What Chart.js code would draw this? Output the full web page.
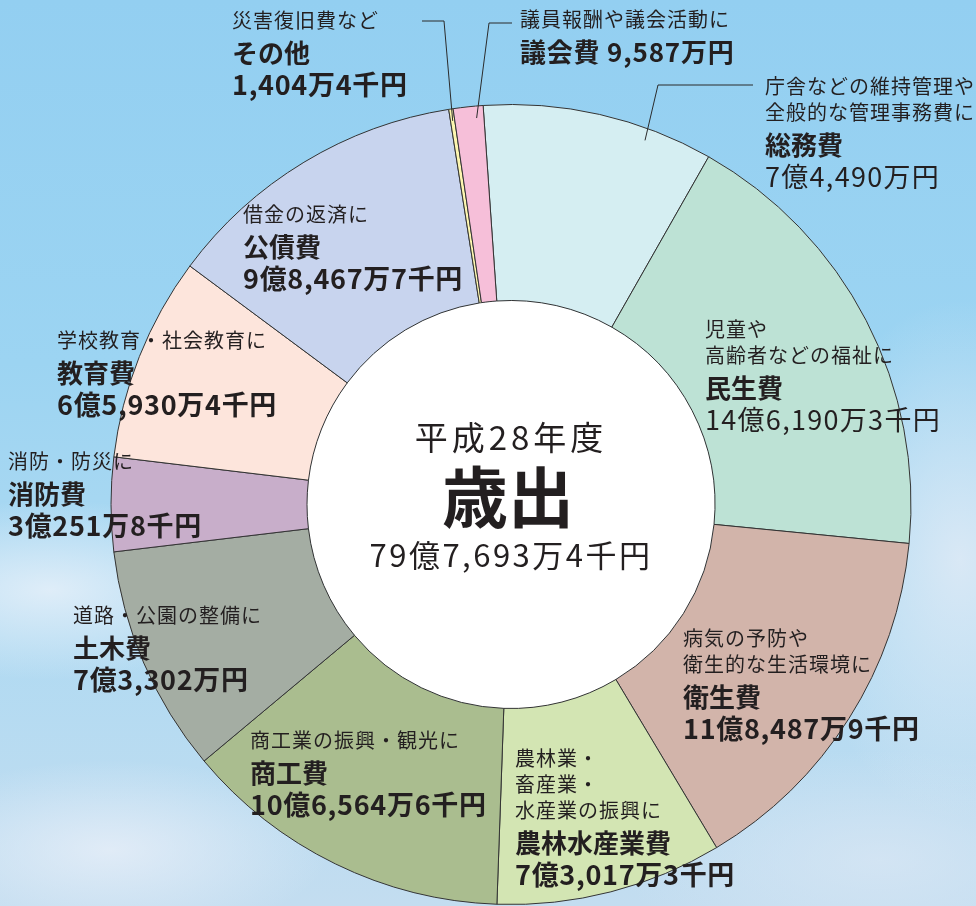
<!DOCTYPE html>
<html lang="ja">
<head>
    <meta charset="UTF-8">
    <title>平成28年度 歳出</title>
    <script src="https://cdn.jsdelivr.net/npm/chart.js"></script>
    <style>
        html, body { margin: 0; padding: 0; }
        #fundo {
            width: 976px;
            height: 906px;
            position: relative;
            overflow: hidden;
            background:
                radial-gradient(ellipse 220px 90px at 50px 590px, rgba(235,242,250,0.8), rgba(235,242,250,0) 100%),
                radial-gradient(ellipse 220px 90px at 110px 850px, rgba(230,238,248,0.85), rgba(230,238,248,0) 100%),
                radial-gradient(ellipse 160px 260px at 960px 560px, rgba(225,235,246,0.85), rgba(225,235,246,0) 100%),
                radial-gradient(ellipse 260px 110px at 880px 860px, rgba(215,230,244,0.8), rgba(215,230,244,0) 100%),
                linear-gradient(180deg, #93cff1 0%, #9cd4f2 40%, #b0daf2 70%, #c3ddf0 100%);
        }
        canvas { display: block; }
    </style>
</head>
<body>
<div id="fundo">
    <canvas id="grafico" width="976" height="906"></canvas>
</div>

<script>
    // 単位: 万円
    const categorias = ['総務費', '民生費', '衛生費', '農林水産業費', '商工費', '土木費', '消防費', '教育費', '公債費', 'その他', '議会費'];
    const valores = [74490, 146190.3, 118487.9, 73017.3, 106564.6, 73302, 30251.8, 65930.4, 98467.7, 1404.4, 9587];
    const textoValores = ['7億4,490万円', '14億6,190万3千円', '11億8,487万9千円', '7億3,017万3千円', '10億6,564万6千円',
        '7億3,302万円', '3億251万8千円', '6億5,930万4千円', '9億8,467万7千円', '1,404万4千円', '9,587万円'];
    const descricoes = [
        ['庁舎などの維持管理や', '全般的な管理事務費に'],
        ['児童や', '高齢者などの福祉に'],
        ['病気の予防や', '衛生的な生活環境に'],
        ['農林業・', '畜産業・', '水産業の振興に'],
        ['商工業の振興・観光に'],
        ['道路・公園の整備に'],
        ['消防・防災に'],
        ['学校教育・社会教育に'],
        ['借金の返済に'],
        ['災害復旧費など'],
        ['議員報酬や議会活動に']
    ];
    const cores = ['#d5eef2', '#bde2d5', '#d2b4aa', '#d3e5b3', '#aabd8f', '#a4ada3', '#c8aeca', '#fde5dc', '#c8d4ee', '#fdf6b0', '#f6bfd9'];
    const tituloCentro = ['平成28年度', '歳出', '79億7,693万4千円'];

    // posição dos rótulos (x, centro da primeira linha)
    const posRotulos = [
        { x: 765, y: 86, fino: true, linha: [[753, 85], [658, 85]], ponto: 0.72 },
        { x: 705, y: 329, fino: true },
        { x: 683, y: 638 },
        { x: 515, y: 758 },
        { x: 250, y: 740 },
        { x: 73, y: 615 },
        { x: 8, y: 461 },
        { x: 57, y: 340 },
        { x: 243, y: 214 },
        { x: 232, y: 20, linha: [[422, 21], [444, 21]], ponto: 0.5 },
        { x: 520, y: 19, juntos: true, linha: [[512, 23], [489, 23]], ponto: 0.75 }
    ];

    const fonte = '"Noto Sans CJK JP", "Noto Sans", sans-serif';
    const corTexto = '#231f20';

    function escrever(ctx, texto, x, y, font, espaco) {
        ctx.font = font;
        ctx.letterSpacing = espaco + 'px';
        ctx.fillText(texto, x, y);
    }

    const pluginRotulos = {
        id: 'rotulos',
        beforeDatasetsDraw(chart) {
            const arco = chart.getDatasetMeta(0).data[0];
            const ctx = chart.ctx;
            ctx.save();
            ctx.beginPath();
            ctx.arc(arco.x, arco.y, arco.innerRadius, 0, Math.PI * 2);
            ctx.fillStyle = '#ffffff';
            ctx.fill();
            ctx.restore();
        },
        afterDatasetsDraw(chart) {
            const ctx = chart.ctx;
            const arcos = chart.getDatasetMeta(0).data;
            ctx.save();
            ctx.fillStyle = corTexto;
            ctx.textBaseline = 'middle';
            ctx.textAlign = 'left';

            posRotulos.forEach((p, i) => {
                let y = p.y;
                descricoes[i].forEach((linha, k) => {
                    escrever(ctx, linha, p.x, y, '400 20px ' + fonte, 1);
                    if (k < descricoes[i].length - 1) y += 26;
                });
                y += 33;
                if (p.juntos) {
                    escrever(ctx, categorias[i] + ' ' + textoValores[i], p.x, y, '700 26px ' + fonte, 0.8);
                } else {
                    escrever(ctx, categorias[i], p.x, y, '700 26px ' + fonte, 0);
                    y += 32;
                    if (p.fino) {
                        escrever(ctx, textoValores[i], p.x, y, '400 27px ' + fonte, 1.3);
                    } else {
                        escrever(ctx, textoValores[i], p.x, y, '700 27px ' + fonte, 0.7);
                    }
                }

                if (p.linha) {
                    const a = arcos[i];
                    const ang = a.startAngle + (a.endAngle - a.startAngle) * p.ponto;
                    const r = a.outerRadius - 12;
                    ctx.beginPath();
                    ctx.moveTo(p.linha[0][0], p.linha[0][1]);
                    ctx.lineTo(p.linha[1][0], p.linha[1][1]);
                    ctx.lineTo(a.x + Math.cos(ang) * r, a.y + Math.sin(ang) * r);
                    ctx.strokeStyle = '#2b2b2b';
                    ctx.lineWidth = 1;
                    ctx.stroke();
                }
            });

            // texto central
            const c = arcos[0];
            ctx.textAlign = 'center';
            escrever(ctx, tituloCentro[0], c.x, 437, '400 33px ' + fonte, 4);
            escrever(ctx, tituloCentro[1], c.x - 3, 497, '700 66px ' + fonte, 0);
            escrever(ctx, tituloCentro[2], c.x, 555, '400 31px ' + fonte, 2.5);
            ctx.restore();
        }
    };

    new Chart(document.getElementById('grafico'), {
        type: 'doughnut',
        data: {
            labels: categorias,
            datasets: [{
                data: valores,
                backgroundColor: cores,
                borderColor: '#333333',
                borderWidth: 1
            }]
        },
        options: {
            responsive: false,
            animation: false,
            events: [],
            rotation: -4,
            cutout: '51%',
            layout: {
                padding: { left: 110, right: 64, top: 104, bottom: 1 }
            },
            plugins: {
                legend: { display: false },
                tooltip: { enabled: false }
            }
        },
        plugins: [pluginRotulos]
    });
</script>
</body>
</html>
